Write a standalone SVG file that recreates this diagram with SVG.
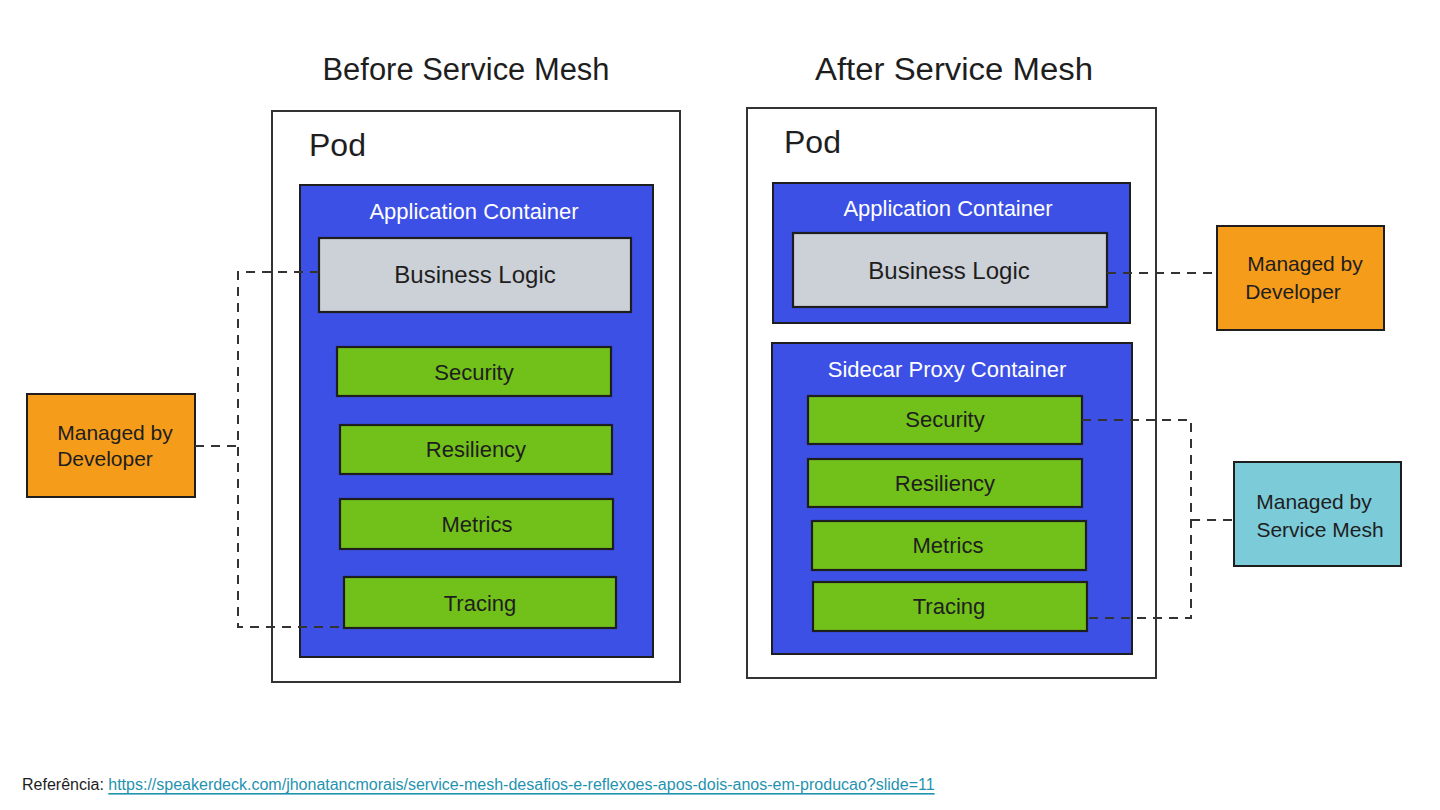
<svg xmlns="http://www.w3.org/2000/svg" width="1440" height="810" viewBox="0 0 1440 810">
<style>
text{font-family:"Liberation Sans","Noto Sans",sans-serif;text-anchor:middle;dominant-baseline:central}
.pod{fill:#ffffff;stroke:#333;stroke-width:2}
.cont{fill:#3c50e6;stroke:#1e1e1e;stroke-width:2}
.biz{fill:#ccd0d7;stroke:#1e1e1e;stroke-width:2.2}
.feat{fill:#72c01a;stroke:#1e1e1e;stroke-width:2.2}
.dev{fill:#f59c1a;stroke:#1e1e1e;stroke-width:2}
.mesh{fill:#7ccbd9;stroke:#1e1e1e;stroke-width:2}
.title{font-size:31px;fill:#1e1e1e}
.podl{font-size:32px;fill:#1e1e1e;text-anchor:start}
.ctl{font-size:22px;fill:#ffffff}
.bl{font-size:24px;fill:#1e1e1e}
.fl{font-size:22px;fill:#1e1e1e}
.ml{font-size:21px;fill:#1e1e1e}
.conn{fill:none;stroke:#333;stroke-width:2;stroke-dasharray:9 7}
</style>
<rect width="1440" height="810" fill="#ffffff"/>
<text class="title" x="466" y="69" textLength="287" lengthAdjust="spacingAndGlyphs">Before Service Mesh</text>
<text class="title" x="954" y="69" textLength="278" lengthAdjust="spacingAndGlyphs">After Service Mesh</text>

<g id="pod-before">
<rect class="pod" x="272" y="111" width="408" height="571"/>
<text class="podl" x="309" y="145">Pod</text>
</g>
<g id="app-before">
<rect class="cont" x="300" y="185" width="353" height="472"/>
<text class="ctl" x="474" y="211">Application Container</text>
</g>
<g id="biz-before">
<rect class="biz" x="319" y="238" width="312" height="74"/>
<text class="bl" x="475" y="274">Business Logic</text>
</g>
<g id="sec-before">
<rect class="feat" x="337" y="347" width="274" height="49"/>
<text class="fl" x="474" y="372">Security</text>
</g>
<g id="res-before">
<rect class="feat" x="340" y="425" width="272" height="49"/>
<text class="fl" x="476" y="449">Resiliency</text>
</g>
<g id="met-before">
<rect class="feat" x="340" y="499" width="273" height="50"/>
<text class="fl" x="477" y="524">Metrics</text>
</g>
<g id="tra-before">
<rect class="feat" x="344" y="577" width="272" height="51"/>
<text class="fl" x="480" y="603">Tracing</text>
</g>
<g id="dev-left">
<rect class="dev" x="27" y="394" width="168" height="103"/>
<text class="ml" x="115" y="432">Managed by</text>
<text class="ml" x="105" y="458">Developer</text>
</g>

<g id="pod-after">
<rect class="pod" x="747" y="108" width="409" height="570"/>
<text class="podl" x="784" y="142">Pod</text>
</g>
<g id="app-after">
<rect class="cont" x="773" y="183" width="357" height="140"/>
<text class="ctl" x="948" y="208">Application Container</text>
</g>
<g id="biz-after">
<rect class="biz" x="793" y="233" width="314" height="74"/>
<text class="bl" x="949" y="270">Business Logic</text>
</g>
<g id="sidecar">
<rect class="cont" x="772" y="343" width="360" height="311"/>
<text class="ctl" x="947" y="369">Sidecar Proxy Container</text>
</g>
<g id="sec-after">
<rect class="feat" x="808" y="396" width="274" height="48"/>
<text class="fl" x="945" y="419">Security</text>
</g>
<g id="res-after">
<rect class="feat" x="808" y="459" width="274" height="48"/>
<text class="fl" x="945" y="483">Resiliency</text>
</g>
<g id="met-after">
<rect class="feat" x="812" y="521" width="274" height="49"/>
<text class="fl" x="948" y="545">Metrics</text>
</g>
<g id="tra-after">
<rect class="feat" x="813" y="582" width="274" height="49"/>
<text class="fl" x="949" y="606">Tracing</text>
</g>
<g id="dev-right">
<rect class="dev" x="1217" y="226" width="167" height="104"/>
<text class="ml" x="1305" y="263">Managed by</text>
<text class="ml" x="1293" y="291">Developer</text>
</g>
<g id="mesh-right">
<rect class="mesh" x="1234" y="462" width="167" height="104"/>
<text class="ml" x="1314" y="501">Managed by</text>
<text class="ml" x="1320" y="529">Service Mesh</text>
</g>

<g id="connectors">
<path class="conn" d="M319,272 H238 V627 H344"/>
<path class="conn" d="M195,446 H238"/>
<path class="conn" d="M1107,273 H1217"/>
<path class="conn" d="M1082,420 H1191 V618 H1087"/>
<path class="conn" d="M1191,520 H1234"/>
</g>

<text x="22" y="784" style="font-size:16px;fill:#1e1e1e;text-anchor:start">Referência: <tspan fill="#1f93b0" text-decoration="underline">https://speakerdeck.com/jhonatancmorais/service-mesh-desafios-e-reflexoes-apos-dois-anos-em-producao?slide=11</tspan></text>
</svg>
